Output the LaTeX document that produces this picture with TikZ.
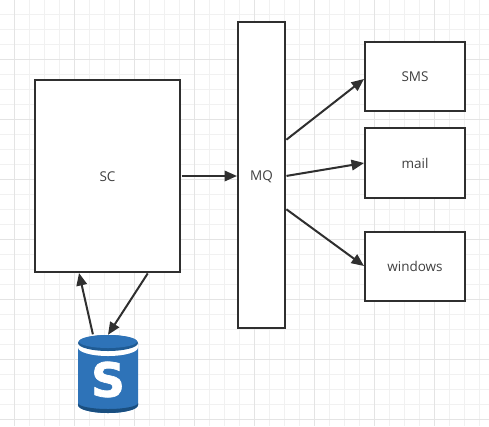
\documentclass[tikz,border=0pt]{standalone}
\usepackage{fontspec}
\setmainfont{Open Sans}
\newfontfamily\logofont[BoldFeatures={FakeBold=1.5}]{DejaVu Sans}
\usetikzlibrary{arrows.meta}
\definecolor{inkc}{HTML}{2F2F2F}
\definecolor{labelc}{HTML}{404040}
\definecolor{gridminor}{HTML}{F1F1F1}
\definecolor{gridmajor}{HTML}{E4E4E4}
\definecolor{dbblue}{HTML}{2E73B8}
\definecolor{dbdark}{HTML}{1F5B94}
\definecolor{dbdarker}{HTML}{1A4F80}
\tikzset{
  flowbox/.style={draw=inkc,line width=2pt,fill=white,minimum width=#1,inner sep=0pt,text=labelc,text height=11pt,text depth=1pt,font=\fontsize{13.5}{15}\selectfont},
  link/.style={draw=inkc,line width=2pt,-{Triangle[length=12.5pt,width=10.5pt]},shorten <=0.5pt},
  dbnode/.style={inner sep=0pt,minimum width=60pt,minimum height=78pt}
}
\begin{document}
\begin{tikzpicture}[x=1pt,y=-1pt]
\useasboundingbox (0,0) rectangle (489,426);
\fill[white] (0,0) rectangle (489,426);
% grid
\foreach \i in {0,...,31}{
  \pgfmathsetmacro\gx{14.5+15*\i}
  \draw[gridminor,line width=1pt] (\gx,0) -- (\gx,426);
}
\foreach \i in {0,...,28}{
  \pgfmathsetmacro\gy{14.5+15*\i}
  \draw[gridminor,line width=1pt] (0,\gy) -- (489,\gy);
}
\foreach \gx in {14.5,74.5,134.5,194.5,254.5,314.5,374.5,434.5}
  \draw[gridmajor,line width=1pt] (\gx,0) -- (\gx,426);
\foreach \gy in {59.5,119.5,179.5,239.5,299.5,359.5,419.5}
  \draw[gridmajor,line width=1pt] (0,\gy) -- (489,\gy);
% boxes
\node[flowbox=145pt,minimum height=192pt] (sc) at (107.5,176) {SC};
\node[flowbox=47pt,minimum height=306pt] (mq) at (261.5,175) {MQ};
\node[flowbox=100pt,minimum height=69pt] (sms) at (415,76.5) {SMS};
\node[flowbox=100pt,minimum height=70pt] (mail) at (415,163) {mail};
\node[flowbox=100pt,minimum height=69pt] (win) at (415,266.5) {windows};
% database
\node[dbnode] (db) at (108,374) {};
\fill[dbblue] (78,343) -- (78,405) arc[start angle=180,end angle=0,x radius=30,y radius=8] -- (138,343) -- cycle;
\fill[dbdarker] (78,403) -- (78,405) arc[start angle=180,end angle=0,x radius=30,y radius=8] -- (138,403) arc[start angle=0,end angle=180,x radius=30,y radius=6] -- cycle;
\fill[white] (78,343) -- (78,347.5) arc[start angle=180,end angle=0,x radius=30,y radius=8.5] -- (138,343) -- cycle;
\fill[dbdark] (108,343) ellipse[x radius=30,y radius=8];
\fill[dbblue] (108,341.5) ellipse[x radius=29,y radius=6.5];
\node[inner sep=0pt,text=white,font=\logofont\bfseries\fontsize{47}{47}\selectfont] (dbs) at (108,379.5) {S};
% connectors
\draw[link] ([yshift=-1pt]mq.west -| sc.east) -- ([yshift=-1pt]mq.west);
\draw[link] ([yshift=35pt]mq.east) -- ([yshift=-2.5pt]sms.west);
\draw[link] ([yshift=-1pt]mq.east) -- (mail.west);
\draw[link] ([yshift=-34pt]mq.east) -- ([yshift=0.5pt]win.west);
\draw[link] ([xshift=-15pt]db.north) -- ([xshift=-28.5pt]sc.south);
\draw[link] ([xshift=40.5pt]sc.south) -- (db.north);
\end{tikzpicture}
\end{document}
